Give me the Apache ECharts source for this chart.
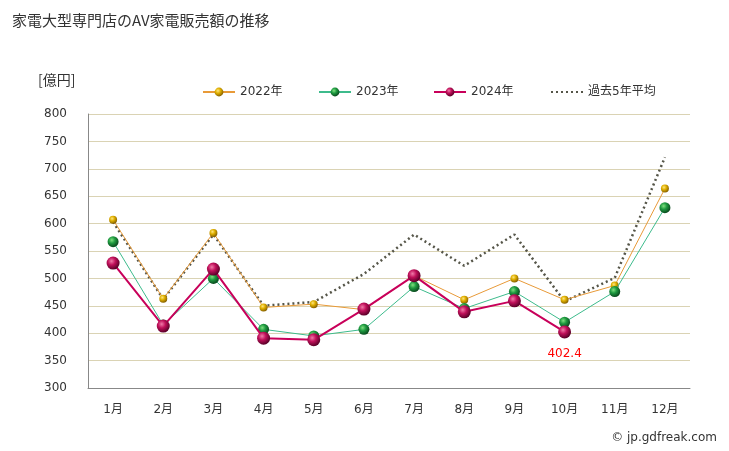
<!DOCTYPE html>
<html><head><meta charset="utf-8">
<script src="https://cdn.jsdelivr.net/npm/echarts@6/dist/echarts.min.js"></script>
<style>html,body{margin:0;padding:0;background:#fff}#c{width:729px;height:451px}</style>
</head><body><div id="c"></div>
<script>
const months = ['1月','2月','3月','4月','5月','6月','7月','8月','9月','10月','11月','12月'];
const s2022 = [607, 463, 583, 447, 453, 443, 505, 461, 500, 461, 487, 664];
const s2023 = [567, 415, 500, 407, 395, 407, 485, 445, 476, 420, 476, 629];
const s2024 = [528, 413, 517, 391, 388, 444, 505, 439, 459, 402.4, null, null];
const avg5 = [603, 462, 580, 450, 457, 508, 580, 523, 580, 458, 501, 721];
const names = ['2022年','2023年','2024年','過去5年平均'];

const FONT = "'DejaVu Sans','Noto Sans CJK JP',sans-serif";
function ball(hi, mid, lo){
  return {type:'radial', x:0.38, y:0.35, r:0.65, colorStops:[
    {offset:0, color:hi},{offset:0.45, color:mid},{offset:1, color:lo}]};
}
const chart = echarts.init(document.getElementById('c'));
function leg(name, left, extra){
  return Object.assign({data:[name], left:left, top:81, itemWidth:32, itemHeight:11, itemGap:0,
    textStyle:{fontFamily:FONT, fontSize:12, color:'#333'}}, extra||{});
}
chart.setOption({
  animation:false,
  title:[{text:'家電大型専門店のAV家電販売額の推移', left:7, top:8,
    textStyle:{fontFamily:"'Noto Sans CJK JP',sans-serif", fontSize:15, fontWeight:'normal', color:'#333'}},
    {text:'[億円]', left:33, top:68, textStyle:{fontFamily:"'Noto Sans CJK JP',sans-serif", fontSize:14, fontWeight:'normal', color:'#333'}},
    {text:'© jp.gdfreak.com', right:7, top:427, textStyle:{fontFamily:FONT, fontSize:12, fontWeight:'normal', color:'#333'}}],
  legend:[leg(names[0],197), leg(names[1],313), leg(names[2],428), leg(names[3],545,{itemStyle:{opacity:0}})],
  grid:{left:88, right:39, top:114, bottom:63},
  xAxis:{type:'category', data:months, boundaryGap:true,
    axisLine:{lineStyle:{color:'#888'}}, axisTick:{show:false},
    axisLabel:{fontFamily:FONT, fontSize:12, color:'#333', margin:16}},
  yAxis:{type:'value', min:300, max:800, interval:50,
    axisLine:{show:true, lineStyle:{color:'#888'}}, axisTick:{show:false},
    splitLine:{lineStyle:{color:'#DAD3B4'}},
    axisLabel:{fontFamily:FONT, fontSize:12, color:'#333', margin:21}},
  series:[
    {name:names[3], type:'line', data:avg5, symbol:'none',
      lineStyle:{color:'#555548', width:2.5, type:[2,3]}, itemStyle:{color:'#555548'}, z:1},
    {name:names[0], type:'line', data:s2022, symbol:'circle', symbolSize:8,
      lineStyle:{color:'#E89A38', width:1}, itemStyle:{color:ball('#FFE680','#E0B000','#8A6400')}, z:2},
    {name:names[1], type:'line', data:s2023, symbol:'circle', symbolSize:11,
      lineStyle:{color:'#3DBB8C', width:1}, itemStyle:{color:ball('#7FE07F','#1E9A40','#0A4A1E')}, z:3},
    {name:names[2], type:'line', data:s2024, symbol:'circle', symbolSize:13,
      lineStyle:{color:'#C8005A', width:2}, itemStyle:{color:ball('#F07AA8','#C0105A','#5A0028')}, z:4,
      label:{show:true, position:'bottom', distance:9, color:'#FF0000', fontFamily:FONT, fontSize:12,
        formatter:function(p){return p.dataIndex===9 ? '402.4' : '';}}}
  ]
});
</script></body></html>
